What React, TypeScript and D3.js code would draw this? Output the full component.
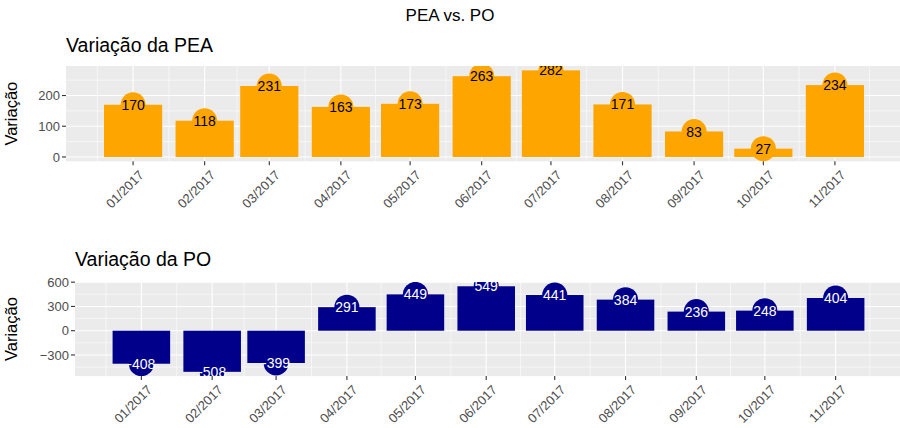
import React from 'react'
import * as d3 from 'd3'

// months shown on both panels
const months = ['2017-01', '2017-02', '2017-03', '2017-04', '2017-05', '2017-06', '2017-07', '2017-08', '2017-09', '2017-10', '2017-11']
const monthLabels = ['01/2017', '02/2017', '03/2017', '04/2017', '05/2017', '06/2017', '07/2017', '08/2017', '09/2017', '10/2017', '11/2017']
const peaValues = [170, 118, 231, 163, 173, 263, 282, 171, 83, 27, 234]
const poValues = [-408, -508, -399, 291, 449, 549, 441, 384, 236, 248, 404]
const peaTicks = [0, 100, 200]
const poTicks = [-300, 0, 300, 600]

const W = 900
const H = 428
const FONT = '"Liberation Sans", Arial, Helvetica, sans-serif'
const DAY = 864e5

const dates = months.map(m => new Date(m + '-01T00:00:00Z'))

// ggplot-like: bar width 0.9 of the smallest gap, 5% expansion
const gaps = d3.pairs(dates).map(([a, b]) => +b - +a)
const barW = 0.9 * (d3.min(gaps) as number)
const rawX: [number, number] = [+dates[0] - barW / 2, +dates[dates.length - 1] + barW / 2]
const padX = (rawX[1] - rawX[0]) * 0.05
const xDomain = [new Date(rawX[0] - padX), new Date(rawX[1] + padX)]

const expand = (vals: number[]) => {
  const lo = Math.min(0, d3.min(vals) as number)
  const hi = Math.max(0, d3.max(vals) as number)
  const p = (hi - lo) * 0.05
  return [lo - p, hi + p]
}

const fmtTick = (v: number) => (v < 0 ? '\u2212' + Math.abs(v) : String(v))

function Panel({ id, title, values, ticks, fill, labelColor, left, top, bottom, titleY }: any) {
  const right = 902
  const x = d3.scaleUtc().domain(xDomain).range([left, right])
  const y = d3.scaleLinear().domain(expand(values)).range([bottom, top])
  const [d0, d1] = y.domain()

  const step = ticks[1] - ticks[0]
  const minorY = d3.range(ticks[0] - step / 2, ticks[ticks.length - 1] + step, step).filter(v => v > d0 && v < d1)

  const majorX = d3.utcMonth.range(xDomain[0], xDomain[1])
  const allMonths = d3.utcMonth.range(d3.utcMonth.floor(xDomain[0]), d3.utcMonth.offset(d3.utcMonth.ceil(xDomain[1]), 1))
  const minorX = d3.pairs(allMonths).map(([a, b]) => new Date((+a + +b) / 2)).filter(d => d > xDomain[0] && d < xDomain[1])

  const clipId = 'clip-' + id
  return (
    <g>
      <text x={left} y={titleY} fontSize={19.5} fill="#000">{title}</text>
      <text transform={`translate(17,${(top + bottom) / 2}) rotate(-90)`} textAnchor="middle" fontSize={16.5} fill="#000">Variação</text>
      <defs>
        <clipPath id={clipId}>
          <rect x={left} y={top} width={right - left} height={bottom - top} />
        </clipPath>
      </defs>
      <rect x={left} y={top} width={right - left} height={bottom - top} fill="#EBEBEB" />
      <g stroke="#fff">
        {minorY.map(v => <line key={'my' + v} x1={left} x2={right} y1={y(v)} y2={y(v)} strokeWidth={0.55} />)}
        {minorX.map(d => <line key={'mx' + +d} x1={x(d)} x2={x(d)} y1={top} y2={bottom} strokeWidth={0.55} />)}
        {ticks.map((v: number) => <line key={'y' + v} x1={left} x2={right} y1={y(v)} y2={y(v)} strokeWidth={1.1} />)}
        {majorX.map(d => <line key={'x' + +d} x1={x(d)} x2={x(d)} y1={top} y2={bottom} strokeWidth={1.1} />)}
      </g>
      <g clipPath={`url(#${clipId})`}>
        {values.map((v: number, i: number) => (
          <rect key={'b' + i} x={x(new Date(+dates[i] - barW / 2))} width={x(new Date(+dates[i] + barW / 2)) - x(new Date(+dates[i] - barW / 2))}
            y={Math.min(y(0), y(v))} height={Math.abs(y(v) - y(0))} fill={fill} />
        ))}
        {values.map((v: number, i: number) => (
          <circle key={'c' + i} cx={x(dates[i])} cy={y(v)} r={12.5} fill={fill} />
        ))}
        {values.map((v: number, i: number) => (
          <text key={'t' + i} x={x(dates[i])} y={y(v)} dy="0.36em" textAnchor="middle" fontSize={14} fill={labelColor}>{v}</text>
        ))}
      </g>
      {/* y axis */}
      {ticks.map((v: number) => (
        <g key={'yt' + v}>
          <line x1={left - 4} x2={left} y1={y(v)} y2={y(v)} stroke="#333" strokeWidth={1.1} />
          <text x={left - 6} y={y(v)} dy="0.36em" textAnchor="end" fontSize={13} fill="#4D4D4D">{fmtTick(v)}</text>
        </g>
      ))}
      {/* x axis */}
      {dates.map((d, i) => (
        <g key={'xt' + i}>
          <line x1={x(d)} x2={x(d)} y1={bottom} y2={bottom + 4} stroke="#333" strokeWidth={1.1} />
          <text transform={`translate(${x(d) + 5},${bottom + 8}) rotate(-45)`} dy="0.71em" textAnchor="end" fontSize={13} fill="#4D4D4D">{monthLabels[i]}</text>
        </g>
      ))}
    </g>
  )
}

export default function App() {
  return (
    <svg width={W} height={H} style={{ position: 'absolute', left: 0, top: 0, background: '#fff' }} fontFamily={FONT}>
      <text x={W / 2} y={21} textAnchor="middle" fontSize={17} fill="#000">PEA vs. PO</text>
      <Panel id="pea" title="Variação da PEA" values={peaValues} ticks={peaTicks} fill="#FFA500" labelColor="#000"
        left={66} top={66} bottom={161.3} titleY={52} />
      <Panel id="po" title="Variação da PO" values={poValues} ticks={poTicks} fill="#00008B" labelColor="#fff"
        left={75} top={282} bottom={376.1} titleY={266} />
    </svg>
  )
}
